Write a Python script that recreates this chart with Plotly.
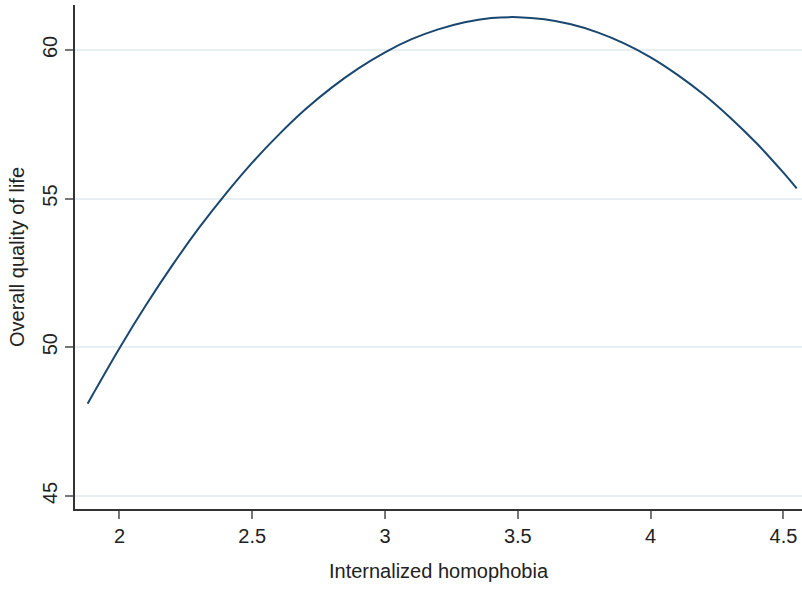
import plotly.graph_objects as go

homophobia = [1.88, 1.9, 2.0, 2.1, 2.2, 2.3, 2.4, 2.5, 2.6, 2.7, 2.8, 2.9, 3.0, 3.1, 3.2,
              3.3, 3.4, 3.5, 3.6, 3.7, 3.8, 3.9, 4.0, 4.1, 4.2, 4.3, 4.4, 4.5, 4.55]
quality = [48.10, 48.42, 49.97, 51.42, 52.77, 54.02, 55.16, 56.21, 57.15, 58.00, 58.74,
           59.38, 59.92, 60.36, 60.69, 60.93, 61.07, 61.10, 61.03, 60.86, 60.59, 60.22,
           59.75, 59.17, 58.50, 57.72, 56.85, 55.87, 55.34]
x_ticks = [2, 2.5, 3, 3.5, 4, 4.5]
x_tick_labels = ["2", "2.5", "3", "3.5", "4", "4.5"]
y_ticks = [45, 50, 55, 60]
y_tick_labels = ["45", "50", "55", "60"]

font_family = "Liberation Sans, Arial, sans-serif"
txt = dict(family=font_family, size=20, color="#222")

fig = go.Figure()
fig.add_trace(go.Scatter(x=homophobia, y=quality, mode="lines",
                         line=dict(color="#1a476f", width=2, shape="spline"),
                         showlegend=False))

fig.update_layout(
    width=802, height=590,
    margin=dict(l=75, r=0, t=5, b=81),
    paper_bgcolor="white", plot_bgcolor="white",
    font=txt,
    xaxis=dict(range=[1.8325, 4.57], tickvals=x_ticks, ticktext=x_tick_labels,
               automargin=False, tickfont=txt,
               showgrid=False, zeroline=False, showline=True, linecolor="#333", linewidth=1.5,
               ticks="outside", ticklen=8, tickcolor="#777", tickwidth=1.5,
               title=dict(text="Internalized homophobia", standoff=18, font=txt)),
    yaxis=dict(range=[44.56, 61.51], tickvals=y_ticks, ticktext=y_tick_labels, tickangle=-90,
               automargin=False, tickfont=txt,
               showgrid=True, gridcolor="#e8eff2", gridwidth=1.5, zeroline=False,
               showline=True, linecolor="#333", linewidth=1.5,
               ticks="outside", ticklen=8, tickcolor="#777", tickwidth=1.5,
               title=dict(text="Overall quality of life", standoff=9, font=txt)),
)

fig.write_html("out.html", config={"displayModeBar": False},
               post_script="document.body.style.margin='0';document.body.style.padding='0';")
